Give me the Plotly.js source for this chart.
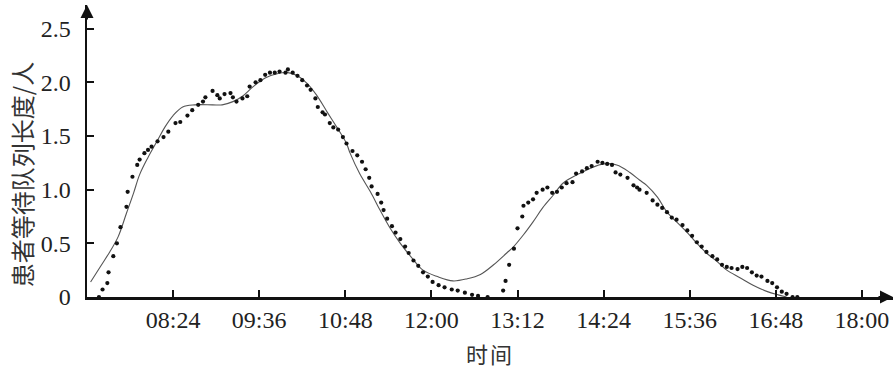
<!DOCTYPE html>
<html>
<head>
<meta charset="utf-8">
<script src="https://cdn.plot.ly/plotly-3.0.1.min.js"></script>
<style>
html,body{margin:0;padding:0;background:#fff}
#chart{width:894px;height:376px}
.g-xtitle text{letter-spacing:2px}
</style>
</head>
<body>
<div id="chart"></div>
<script>
// Time is given in minutes since midnight
var dotMinutes = [442,445,449,450,454,457,460,465,466,470,474,476,480,483,486,491,496,500,506,510,516,520,525,529,531,537,541,543,547,552,554,557,562,566,568,573,577,581,585,589,593,598,600,604,608,612,616,619,623,625,629,631,635,638,642,646,649,654,658,662,665,668,670,675,678,680,683,687,690,694,698,701,705,709,713,717,721,726,731,737,742,748,754,759,767,780,782,785,789,792,796,797,801,805,808,813,817,821,825,829,833,838,841,846,850,854,859,863,867,871,874,878,884,889,892,894,900,905,909,913,917,921,925,930,934,938,942,946,950,955,959,963,967,971,976,980,984,988,992,996,1001,1005,1009,1013,1017,1022,1026];
var dotQueue = [0.00,0.07,0.13,0.23,0.38,0.50,0.65,0.84,0.98,1.12,1.23,1.28,1.34,1.37,1.40,1.45,1.49,1.54,1.62,1.63,1.69,1.74,1.79,1.82,1.86,1.92,1.88,1.85,1.89,1.90,1.86,1.82,1.85,1.87,1.96,2.00,2.02,2.07,2.09,2.09,2.10,2.09,2.12,2.09,2.06,2.02,1.97,1.93,1.85,1.77,1.72,1.70,1.62,1.58,1.56,1.49,1.43,1.36,1.32,1.26,1.19,1.11,1.03,0.96,0.88,0.81,0.73,0.66,0.60,0.54,0.47,0.41,0.34,0.29,0.23,0.19,0.14,0.11,0.09,0.07,0.06,0.04,0.02,0.01,0.00,0.06,0.15,0.30,0.45,0.64,0.75,0.85,0.88,0.91,0.97,1.00,1.02,0.97,0.98,1.02,1.06,1.07,1.15,1.17,1.20,1.22,1.26,1.25,1.24,1.23,1.16,1.14,1.11,1.04,1.02,1.00,0.97,0.90,0.86,0.83,0.79,0.74,0.72,0.67,0.62,0.57,0.51,0.47,0.42,0.38,0.35,0.30,0.28,0.27,0.26,0.28,0.27,0.23,0.20,0.19,0.15,0.13,0.09,0.05,0.03,0.00,0.00];

var fitMinutes = [435,443,451,458,465,471,476,483,491,497,504,512,522,537,545,554,562,571,581,591,600,608,616,624,633,641,649,652,660,669,677,685,694,704,713,725,738,750,761,772,783,788,797,805,813,822,830,842,853,864,875,886,894,900,909,917,925,934,942,950,959,967,978,989,1001,1010,1017];
var fitQueue = [0.14,0.28,0.42,0.56,0.78,0.97,1.14,1.30,1.46,1.58,1.69,1.77,1.79,1.79,1.79,1.82,1.87,1.96,2.04,2.08,2.09,2.06,1.99,1.88,1.72,1.58,1.43,1.34,1.15,0.98,0.81,0.65,0.50,0.36,0.25,0.19,0.15,0.17,0.21,0.30,0.41,0.46,0.58,0.70,0.83,0.95,1.06,1.14,1.20,1.24,1.23,1.16,1.09,1.04,0.93,0.79,0.70,0.60,0.50,0.41,0.33,0.25,0.18,0.11,0.05,0.02,0.00];

var xTickVals = [504,576,648,720,792,864,936,1008,1080];
var xTickText = ['08:24','09:36','10:48','12:00','13:12','14:24','15:36','16:48','18:00'];
var yTickVals = [0,0.5,1,1.5,2,2.5];
var yTickText = ['0','0.5','1.0','1.5','2.0','2.5'];
var xTitle = '时间';
var yTitle = '患者等待队列长度/人';

var xMin = 432, xMax = 1106, yMin = 0, yMax = 2.72;
var serif = 'Liberation Serif, Times New Roman, serif';
var cjk = 'Noto Sans CJK SC, sans-serif';

var traces = [
  {x: fitMinutes, y: fitQueue, mode: 'lines', line: {color: '#555', width: 1.1, shape: 'spline', smoothing: 1}, hoverinfo: 'skip', cliponaxis: false},
  {x: dotMinutes, y: dotQueue, mode: 'markers', marker: {color: '#111', size: 4.2, symbol: 'circle'}, cliponaxis: false}
];

var layout = {
  width: 894, height: 376,
  margin: {l: 87, r: 1, t: 5, b: 79},
  paper_bgcolor: '#fff', plot_bgcolor: '#fff',
  showlegend: false,
  xaxis: {
    range: [xMin, xMax], autorange: false,
    tickvals: xTickVals, ticktext: xTickText,
    ticks: 'inside', ticklen: 7, tickwidth: 2, tickcolor: '#111',
    showline: true, linewidth: 2.5, linecolor: '#111',
    showgrid: false, zeroline: false,
    tickfont: {family: serif, size: 24, color: '#222'},
    title: {text: xTitle, font: {family: cjk, size: 22, color: '#333'}, standoff: 16},
    automargin: false
  },
  yaxis: {
    range: [yMin, yMax], autorange: false,
    tickvals: yTickVals, ticktext: yTickText,
    ticks: 'inside', ticklen: 7, tickwidth: 2, tickcolor: '#111',
    ticklabelstandoff: 9,
    showline: true, linewidth: 2.5, linecolor: '#111',
    showgrid: false, zeroline: false,
    tickfont: {family: serif, size: 24, color: '#222'},
    automargin: false
  },
  annotations: [
    {x: -0.082, y: 0.42, xref: 'paper', yref: 'paper', xanchor: 'center', yanchor: 'middle', textangle: -90, showarrow: false,
     text: yTitle, font: {family: cjk, size: 24, color: '#333'}},
    {x: xMax, y: 0, xref: 'x', yref: 'y', ax: -16, ay: 0, showarrow: true, arrowhead: 2, arrowsize: 1.3, arrowwidth: 2, arrowcolor: '#111', text: ''},
    {x: xMin, y: yMax, xref: 'x', yref: 'y', ax: 0, ay: 16, showarrow: true, arrowhead: 2, arrowsize: 1.3, arrowwidth: 2, arrowcolor: '#111', text: ''}
  ]
};

Plotly.newPlot('chart', traces, layout, {displayModeBar: false, staticPlot: true});
</script>
</body>
</html>
